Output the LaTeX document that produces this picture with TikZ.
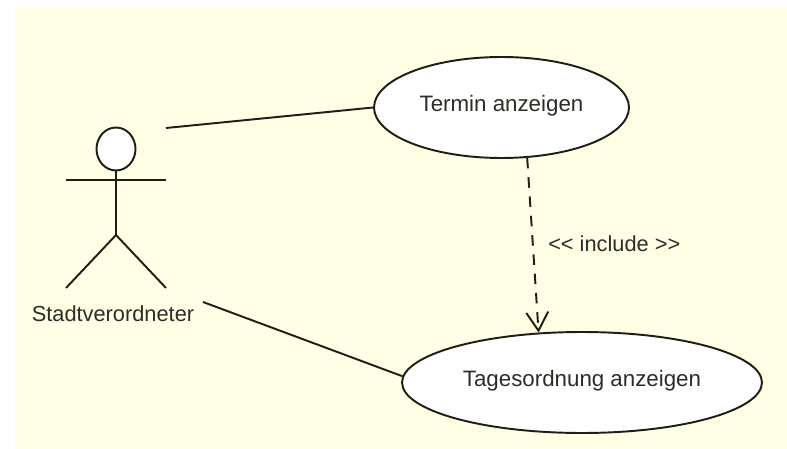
\documentclass[tikz,border=0pt]{standalone}
\usepackage{fontspec}
\setmainfont{Liberation Sans}
\usetikzlibrary{shapes,arrows.meta,positioning}
\definecolor{notebg}{RGB}{255,255,229}
\definecolor{darkline}{RGB}{30,30,20}
\definecolor{labelgray}{RGB}{45,45,40}
\tikzset{
    % Define standard node styles
    usecase/.style={
        ellipse, draw=darkline, line width=1.1pt, fill=white,
        inner sep=0pt, text depth=5pt, font=\fontsize{12.7}{14}\selectfont, text=labelgray
    },
    actorhead/.style={
        ellipse, draw=darkline, line width=1.1pt, fill=white,
        inner sep=0pt, minimum width=0.78cm, minimum height=0.86cm
    },
    actorlabel/.style={
        font=\fontsize{12.4}{14}\selectfont, text=labelgray, inner sep=0pt
    },
    assoc/.style={
        line width=1.1pt, color=darkline
    },
    includes/.style={
        -{Straight Barb[length=10.5pt,width=12.5pt]}, dash pattern=on 6pt off 5pt,
        line width=1.1pt, color=darkline
    },
    annotation/.style={
        font=\fontsize{12.4}{14}\selectfont, text=labelgray, inner sep=0pt
    }
}
\begin{document}
\begin{tikzpicture}[x=0.02cm, y=-0.02cm]
\useasboundingbox (0,0) rectangle (787,449);
\fill[notebg] (15,7) rectangle (787,449);

% Actor
\node[actorhead] (head) at (116,149) {};
\coordinate (neck) at (116,180);
\coordinate (hip) at (116,235);
\coordinate[left=1cm of neck] (arm_left);
\coordinate[right=1cm of neck] (arm_right);
\coordinate (foot_left) at (66,288);
\coordinate (foot_right) at (166,288);
\node[actorlabel] (stadt) at (113,314) {Stadtverordneter};
\draw[assoc] (head) -- (hip);
\draw[assoc] (arm_left) -- (arm_right);
\draw[assoc] (foot_left) -- (hip) -- (foot_right);

% Use cases
\node[usecase, minimum width=5.1cm, minimum height=2.02cm] (termin) at (501.5,107.5) {Termin anzeigen};
\node[usecase, minimum width=7.2cm, minimum height=2.02cm] (tagesordnung) at (582,382.5) {Tagesordnung anzeigen};

% Arrows
\coordinate (actor_top) at (166,128);
\coordinate (actor_bottom) at (203,302);
\draw[assoc] (actor_top) -- (termin.west);
\draw[assoc] (actor_bottom) -- (tagesordnung.178);
\draw[includes] (termin.-63.7) -- node[annotation, right=8.2pt, yshift=1pt] (inc_label) {<{}< include >{}>} (tagesordnung.131);

\end{tikzpicture}
\end{document}
